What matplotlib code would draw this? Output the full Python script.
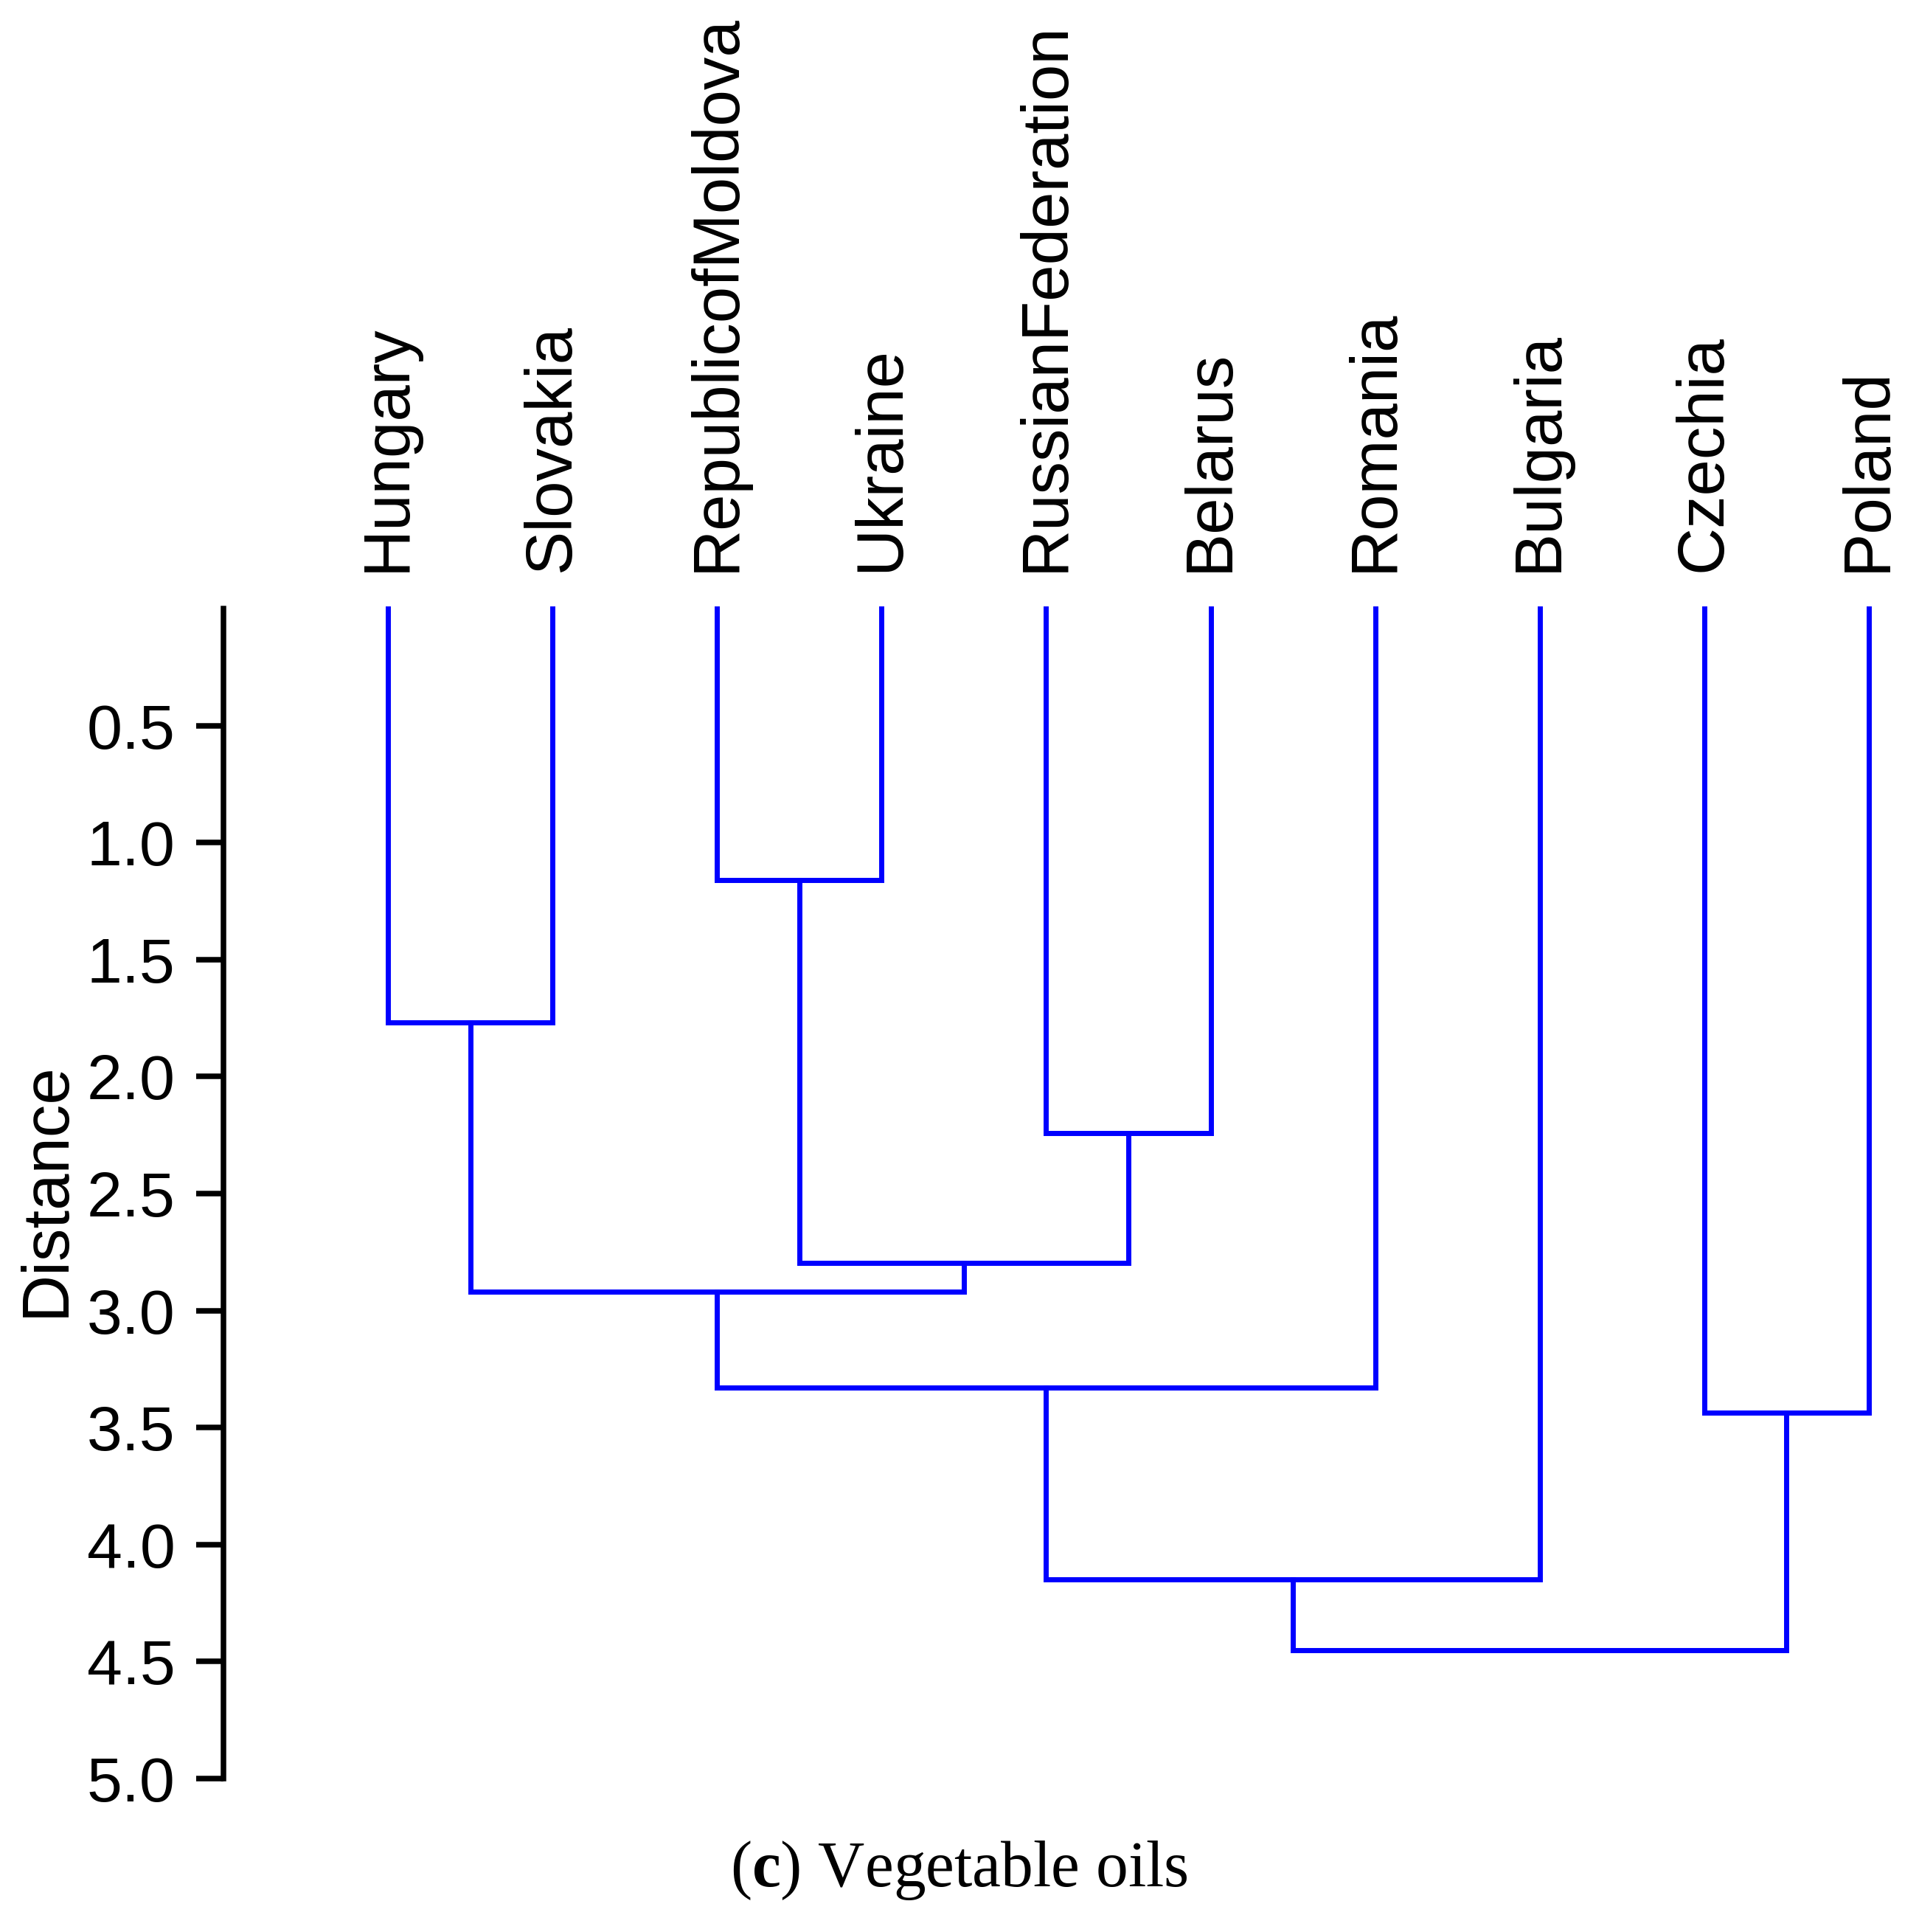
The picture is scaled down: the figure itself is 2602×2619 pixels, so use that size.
import matplotlib
matplotlib.use('Agg')
import matplotlib.pyplot as plt

# leaves, left to right
leaves = ['Hungary', 'Slovakia', 'RepublicofMoldova', 'Ukraine', 'RussianFederation',
          'Belarus', 'Romania', 'Bulgaria', 'Czechia', 'Poland']

# merges: c0, c1, ... in order
merge_left = ['Hungary', 'RepublicofMoldova', 'RussianFederation', 'c1', 'c0', 'c4', 'c5', 'Czechia', 'c6']
merge_right = ['Slovakia', 'Ukraine', 'Belarus', 'c2', 'c3', 'Romania', 'Bulgaria', 'Poland', 'c7']
merge_height = [1.77, 1.16, 2.24, 2.795, 2.92, 3.33, 4.15, 3.435, 4.45]

y_ticks = [0.5, 1.0, 1.5, 2.0, 2.5, 3.0, 3.5, 4.0, 4.5, 5.0]

plt.rcParams['font.family'] = ['Liberation Sans', 'DejaVu Sans']
plt.rcParams['mathtext.fontset'] = 'custom'
plt.rcParams['mathtext.rm'] = 'Liberation Serif'
plt.rcParams['mathtext.bf'] = 'Liberation Serif:bold'

fig = plt.figure(figsize=(26.02, 26.19), dpi=100)
ax = fig.add_axes([0.11645, 0.0794, 0.88355, 0.6056])

pos = {name: i for i, name in enumerate(leaves)}
hgt = {name: 0.0 for name in leaves}
blue = '#0000FF'
for k, (l, r, h) in enumerate(zip(merge_left, merge_right, merge_height)):
    xl, xr = pos[l], pos[r]
    ax.plot([xl, xl, xr, xr], [hgt[l], h, h, hgt[r]], color=blue, lw=5.0,
            solid_joinstyle='miter', clip_on=False)
    pos['c%d' % k] = (xl + xr) / 2
    hgt['c%d' % k] = h

ax.set_xlim(-1.0, 9.305)
ax.set_ylim(5.0, 0.0)

ax.xaxis.tick_top()
ax.set_xticks(range(len(leaves)))
ax.set_xticklabels(leaves, rotation=90, fontsize=64)
ax.tick_params(axis='x', length=0, pad=36)

ax.set_yticks(y_ticks)
ax.set_yticklabels(['%.1f' % v for v in y_ticks], fontsize=62)
ax.tick_params(axis='y', length=27, width=5.4, pad=20)

for s in ['top', 'right', 'bottom']:
    ax.spines[s].set_visible(False)
ax.spines['left'].set_linewidth(5.4)

ax.set_ylabel('Distance', fontsize=64)
ax.yaxis.set_label_coords(-0.0857, 0.504)

fig.text(0.4996, (2619 - 2557) / 2619, r'($\mathbf{c}$) Vegetable oils',
         family='Liberation Serif', fontsize=63, ha='center', va='baseline')

fig.savefig('out.png', dpi=100)
